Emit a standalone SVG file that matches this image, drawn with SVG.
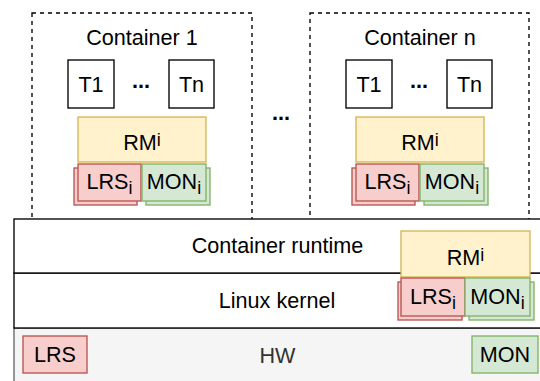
<svg xmlns="http://www.w3.org/2000/svg" width="540" height="381" viewBox="0 0 540 381">
<style>
text{font-family:"Liberation Sans",Arial,Helvetica,sans-serif;font-size:21.6px;fill:#000;text-anchor:middle}
.small{font-size:18px}
.dash{fill:none;stroke:#000;stroke-width:1.35;stroke-dasharray:4 4}
.blk{fill:#fff;stroke:#000;stroke-width:1.35}
.yel{fill:#fff2cc;stroke:#d6b656;stroke-width:1.35}
.red{fill:#f8cecc;stroke:#b85450;stroke-width:1.35}
.grn{fill:#d5e8d4;stroke:#82b366;stroke-width:1.35}
.hw{fill:#f5f5f5;stroke:#666;stroke-width:1.35}
.dots{font-weight:bold}
</style>
<g id="container1">
<rect class="dash" x="32" y="13" width="220" height="210"/>
<text x="142" y="45">Container 1</text>
</g>
<g id="containern">
<rect class="dash" x="310" y="13" width="219" height="210"/>
<text x="420" y="45">Container n</text>
</g>
<g id="middle-dots"><text class="dots" x="281" y="120">...</text></g>
<g id="c1-t1"><rect class="blk" x="68" y="60" width="46" height="48"/><text x="91" y="92">T1</text></g>
<g id="c1-dots"><text class="dots" x="141" y="88">...</text></g>
<g id="c1-tn"><rect class="blk" x="169" y="60" width="45" height="48"/><text x="191.5" y="92">Tn</text></g>
<g id="c1-rm"><rect class="yel" x="78" y="117" width="128" height="45"/><text x="142" y="150">RM<tspan class="small" dy="-4">i</tspan></text></g>
<g id="c1-lrs"><rect class="red" x="74" y="168" width="63" height="37"/><rect class="red" x="78" y="164" width="63" height="37"/><text x="109.5" y="189">LRS<tspan class="small" dy="4.5">i</tspan></text></g>
<g id="c1-mon"><rect class="grn" x="146" y="168" width="64" height="37"/><rect class="grn" x="142" y="164" width="64" height="37"/><text x="174" y="189">MON<tspan class="small" dy="4.5">i</tspan></text></g>
<g id="cn-t1"><rect class="blk" x="346" y="60" width="46" height="48"/><text x="369" y="92">T1</text></g>
<g id="cn-dots"><text class="dots" x="419" y="88">...</text></g>
<g id="cn-tn"><rect class="blk" x="447" y="60" width="45" height="48"/><text x="469.5" y="92">Tn</text></g>
<g id="cn-rm"><rect class="yel" x="356" y="117" width="128" height="45"/><text x="420" y="150">RM<tspan class="small" dy="-4">i</tspan></text></g>
<g id="cn-lrs"><rect class="red" x="352" y="168" width="63" height="37"/><rect class="red" x="356" y="164" width="63" height="37"/><text x="387.5" y="189">LRS<tspan class="small" dy="4.5">i</tspan></text></g>
<g id="cn-mon"><rect class="grn" x="424" y="168" width="64" height="37"/><rect class="grn" x="420" y="164" width="64" height="37"/><text x="452" y="189">MON<tspan class="small" dy="4.5">i</tspan></text></g>
<g id="hw"><rect class="hw" x="14" y="328" width="530" height="60"/><text x="277.5" y="363" style="fill:#333">HW</text></g>
<g id="kernel"><rect class="blk" x="14" y="273" width="530" height="55"/><text x="277" y="308">Linux kernel</text></g>
<g id="runtime"><rect class="blk" x="14" y="219" width="530" height="54"/><text x="277.5" y="253">Container runtime</text></g>
<g id="rt-rm"><rect class="yel" x="401" y="231" width="129" height="46"/><text x="465.5" y="265">RM<tspan class="small" dy="-4">i</tspan></text></g>
<g id="rt-lrs"><rect class="red" x="398" y="282" width="64" height="38"/><rect class="red" x="401" y="278" width="64" height="38"/><text x="433" y="304">LRS<tspan class="small" dy="4.5">i</tspan></text></g>
<g id="rt-mon"><rect class="grn" x="469" y="282" width="65" height="38"/><rect class="grn" x="465" y="278" width="65" height="38"/><text x="497.5" y="304">MON<tspan class="small" dy="4.5">i</tspan></text></g>
<g id="hw-lrs"><rect class="red" x="23" y="336" width="64" height="37"/><text x="55" y="362">LRS</text></g>
<g id="hw-mon"><rect class="grn" x="472" y="336" width="66" height="37"/><text x="505" y="362">MON</text></g>
<g id="connectors"/>
</svg>
